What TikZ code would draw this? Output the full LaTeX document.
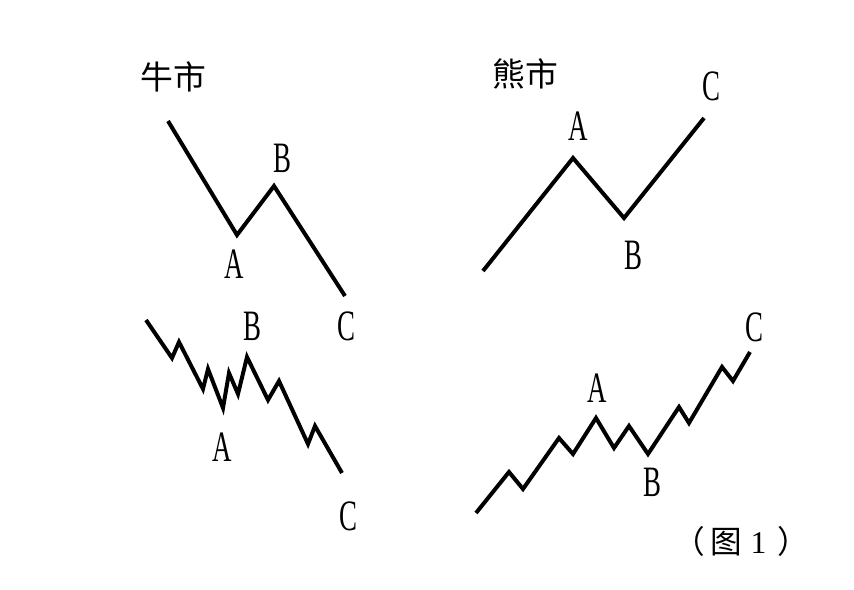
\documentclass[tikz,border=0pt]{standalone}
\usepackage{fontspec}
\setmainfont{Liberation Serif}
\newfontfamily\cjk{Noto Sans CJK SC}
\newfontfamily\narrowserif[FakeStretch=0.62]{Liberation Serif}

\tikzset{
  wave/.style={line width=3.4pt, line join=miter},
  wavelabel/.style={inner sep=0pt, font=\narrowserif\fontsize{37}{40}\selectfont},
  market/.style={inner sep=0pt, font=\cjk\fontsize{28}{30}\selectfont}
}

\begin{document}
\begin{tikzpicture}[x=0.03cm,y=-0.03cm]
                \useasboundingbox (0,0) rectangle (854,590);
                % titles
                \node[market] (bulltitle) at (173,77) {牛市};
                \node[market] (beartitle) at (525,74) {熊市};
                % bull market, simple
                \draw [wave] (168,121) -- (237,235) -- (274,186) -- (345,296);
                \node[wavelabel] (bullA) at (234,264) {A};
                \node[wavelabel] (bullB) at (282,158) {B};
                \node[wavelabel] (bullC) at (346,326) {C};
                % bear market, simple
                \draw [wave] (483,271) -- (573,158) -- (624,218) -- (704,118);
                \node[wavelabel] (bearA) at (578,126) {A};
                \node[wavelabel] (bearB) at (633,255) {B};
                \node[wavelabel] (bearC) at (711,86) {C};
                % bull market, detailed
                \draw [wave] (146,320) -- (172,358) -- (179,342) -- (203,389) -- (208,369)
                  -- (223,408) -- (229,373) -- (238,394) -- (247,357) -- (268,400)
                  -- (279,381) -- (308,444) -- (315,426) -- (342,473);
                \node[wavelabel] (bullA2) at (222,447) {A};
                \node[wavelabel] (bullB2) at (252,326) {B};
                \node[wavelabel] (bullC2) at (348,516) {C};
                % bear market, detailed
                \draw [wave] (476,513) -- (509,472) -- (523,489) -- (559,438) -- (573,454)
                  -- (596,418) -- (614,448) -- (629,426) -- (648,454) -- (679,407)
                  -- (689,423) -- (722,367) -- (733,381) -- (750,352);
                \node[wavelabel] (bearA2) at (597,388) {A};
                \node[wavelabel] (bearB2) at (652,482) {B};
                \node[wavelabel] (bearC2) at (754,327) {C};
                % caption
                \node[inner sep=0pt, font=\fontsize{27}{30}\selectfont] (caption) at (741,541)
                  {{\cjk （}\hspace{5pt}{\cjk 图}\hspace{7pt}1\hspace{9pt}{\cjk ）}};
\end{tikzpicture}
\end{document}
